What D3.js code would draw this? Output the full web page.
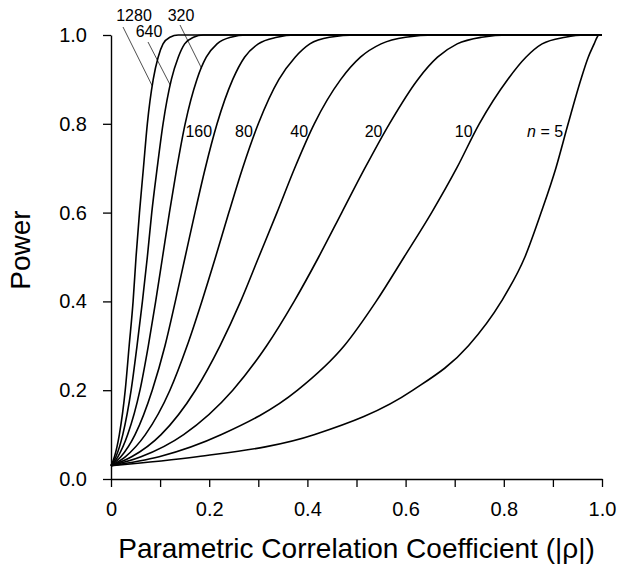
<!DOCTYPE html>
<html>
<head>
<meta charset="utf-8">
<script src="https://cdn.jsdelivr.net/npm/d3@7"></script>
<style>
  html, body { margin: 0; padding: 0; background: #fff; }
  svg { display: block; }
  text { font-family: "Liberation Sans", Arial, Helvetica, sans-serif; fill: #000; }
</style>
</head>
<body>
<svg id="chart" width="617" height="569"></svg>
<script>
// ---- data ----
const sampleSizes = [5, 10, 20, 40, 80, 160, 320, 640, 1280];
const curveLabels = ["n = 5", "10", "20", "40", "80", "160", "320", "640", "1280"];
// power levels at which each curve's |rho| was read
const powerLevels = [0.03, 0.05, 0.1, 0.2, 0.3, 0.4, 0.5, 0.6, 0.7, 0.8, 0.9, 0.95, 0.98, 0.995, 1.0, 1.0];
const rho_n5    = [0, 0.175, 0.415, 0.615, 0.728, 0.795, 0.843, 0.876, 0.906, 0.931, 0.957, 0.972, 0.984, 0.990, 0.994, 1.0];
const rho_n10   = [0, 0.098, 0.225, 0.380, 0.475, 0.540, 0.597, 0.653, 0.704, 0.750, 0.808, 0.845, 0.878, 0.925, 0.965, 1.0];
const rho_n20   = [0, 0.061, 0.148, 0.248, 0.317, 0.373, 0.423, 0.470, 0.517, 0.567, 0.625, 0.665, 0.705, 0.755, 0.810, 1.0];
const rho_n40   = [0, 0.042, 0.102, 0.172, 0.222, 0.264, 0.301, 0.338, 0.374, 0.414, 0.468, 0.508, 0.550, 0.600, 0.660, 1.0];
const rho_n80   = [0, 0.029, 0.070, 0.120, 0.155, 0.185, 0.213, 0.240, 0.268, 0.300, 0.342, 0.375, 0.405, 0.445, 0.500, 1.0];
const rho_n160  = [0, 0.020, 0.049, 0.084, 0.110, 0.131, 0.151, 0.171, 0.192, 0.216, 0.248, 0.272, 0.300, 0.338, 0.375, 1.0];
const rho_n320  = [0, 0.014, 0.034, 0.059, 0.076, 0.091, 0.105, 0.119, 0.134, 0.151, 0.175, 0.194, 0.216, 0.244, 0.276, 1.0];
const rho_n640  = [0, 0.010, 0.024, 0.041, 0.053, 0.064, 0.074, 0.083, 0.094, 0.106, 0.123, 0.137, 0.150, 0.168, 0.188, 1.0];
const rho_n1280 = [0, 0.007, 0.017, 0.029, 0.037, 0.045, 0.051, 0.058, 0.066, 0.074, 0.086, 0.096, 0.106, 0.120, 0.137, 1.0];
const rhoSeries = [rho_n5, rho_n10, rho_n20, rho_n40, rho_n80, rho_n160, rho_n320, rho_n640, rho_n1280];

const xTickValues = [0, 0.1, 0.2, 0.3, 0.4, 0.5, 0.6, 0.7, 0.8, 0.9, 1.0];
const xTickLabels = ["0", "", "0.2", "", "0.4", "", "0.6", "", "0.8", "", "1.0"];
const yTickValues = [0, 0.2, 0.4, 0.6, 0.8, 1.0];
const yTickLabels = ["0.0", "0.2", "0.4", "0.6", "0.8", "1.0"];

// inline labels: power at which the label sits beside its curve
const inlineLabelPower = 0.784;
// leader-labelled curves (1280, 640, 320): power where leader meets curve
const leaderCurves = ["1280", "640", "320"];
const leaderPower = [0.885, 0.887, 0.925];

// ---- drawing ----
const svg = d3.select("#chart");
const x = d3.scaleLinear().domain([0, 1]).range([111, 602]);
const y = d3.scaleLinear().domain([0, 1]).range([479, 35]);

const series = sampleSizes.map((n, i) => ({
  n, label: curveLabels[i],
  pts: rhoSeries[i].map((r, j) => [r, powerLevels[j]])
}));

// axes
const xAxis = d3.axisBottom(x).tickValues(xTickValues)
  .tickFormat((d, i) => xTickLabels[i]).tickSize(8).tickSizeOuter(0).tickPadding(15);
const yAxis = d3.axisLeft(y).tickValues(yTickValues)
  .tickFormat((d, i) => yTickLabels[i]).tickSize(8).tickSizeOuter(0).tickPadding(16);

const gx = svg.append("g").attr("transform", `translate(0,${y(0)})`).call(xAxis);
const gy = svg.append("g").attr("transform", `translate(${x(0)},0)`).call(yAxis);
[gx, gy].forEach(g => {
  g.selectAll("path.domain").attr("stroke", "#000").attr("stroke-width", 1.4);
  g.selectAll(".tick line").attr("stroke", "#000").attr("stroke-width", 1.3);
  g.selectAll(".tick text").style("font-size", "20px").attr("fill", "#000");
});

// curves
const line = d3.line().x(d => x(d[0])).y(d => y(d[1])).curve(d3.curveMonotoneX);
svg.append("g").selectAll("path").data(series).join("path")
  .attr("d", d => line(d.pts))
  .attr("fill", "none").attr("stroke", "#000").attr("stroke-width", 1.6);

// helper: rho on a curve at given power (linear interpolation of read points)
function rhoAt(s, p) {
  const pts = s.pts;
  for (let j = 1; j < pts.length; j++) {
    if (pts[j][1] >= p) {
      const [r0, p0] = pts[j - 1], [r1, p1] = pts[j];
      return r0 + (r1 - r0) * (p - p0) / (p1 - p0);
    }
  }
  return pts[pts.length - 1][0];
}

// inline labels (n = 5 ... 160)
const inline = series.filter(s => !leaderCurves.includes(s.label));
const lab = svg.append("g");
inline.forEach(s => {
  const t = lab.append("text")
    .attr("x", x(rhoAt(s, inlineLabelPower)) - 3)
    .attr("y", y(inlineLabelPower) + 6)
    .attr("text-anchor", "end")
    .style("font-size", "16px");
  if (s.n === 5) {
    t.append("tspan").style("font-style", "italic").text("n");
    t.append("tspan").text(" = 5");
  } else {
    t.text(s.label);
  }
});

// leader labels
const leaderText = [
  { label: "1280", tx: 134, ty: 21, lx: 123, ly: 27 },
  { label: "640",  tx: 149, ty: 37, lx: 148, ly: 42 },
  { label: "320",  tx: 181, ty: 21, lx: 180, ly: 25 }
];
leaderText.forEach((t, i) => {
  const s = series.find(d => d.label === leaderCurves[i]);
  const p = leaderPower[i];
  svg.append("line")
    .attr("x1", t.lx).attr("y1", t.ly)
    .attr("x2", x(rhoAt(s, p))).attr("y2", y(p))
    .attr("stroke", "#000").attr("stroke-width", 0.7);
  svg.append("text").attr("x", t.tx).attr("y", t.ty)
    .attr("text-anchor", "middle").style("font-size", "16px").text(t.label);
});

// axis titles
svg.append("text")
  .attr("transform", `translate(30,250) rotate(-90)`)
  .attr("text-anchor", "middle").style("font-size", "28px").text("Power");
svg.append("text")
  .attr("x", (x(0) + x(1)) / 2).attr("y", 558)
  .attr("text-anchor", "middle").style("font-size", "28px")
  .text("Parametric Correlation Coefficient (|ρ|)");
</script>
</body>
</html>
